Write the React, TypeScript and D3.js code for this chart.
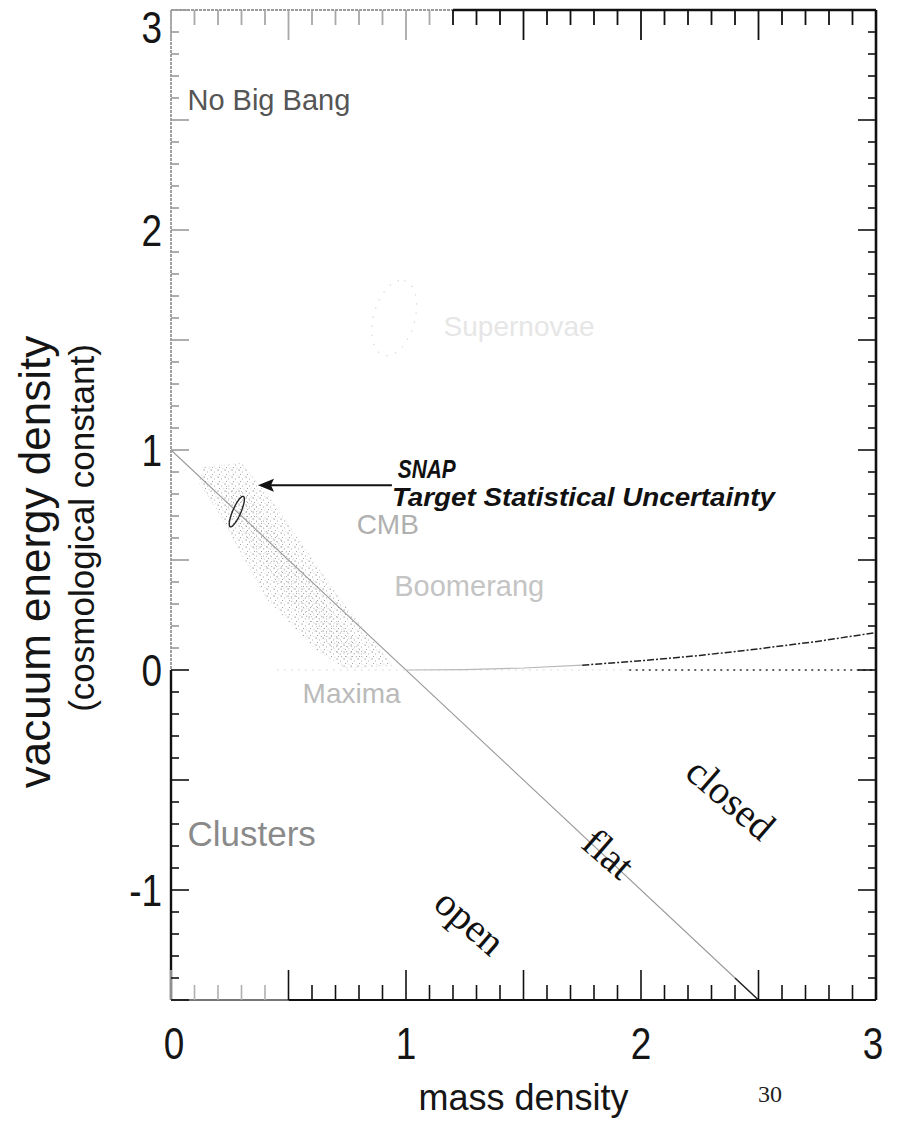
import React from 'react';
import * as d3 from 'd3';

// Plot extent in (mass density, vacuum energy density)
const xDomain: [number, number] = [0, 3];
const yDomain: [number, number] = [-1.5, 3];
const xTickLabels = [0, 1, 2, 3];
const yTickLabels = [-1, 0, 1, 2, 3];

// Flat universe: mass + vacuum = 1
const flatLine: [number, number][] = [[0, 1], [2.5, -1.5]];

// Boundary between eternal expansion and recollapse
const recollapseX = [1.0, 1.25, 1.5, 1.75, 2.0, 2.25, 2.5, 2.75, 3.0];
const recollapseY = [0, 0.002, 0.009, 0.022, 0.042, 0.066, 0.096, 0.13, 0.17];

// CMB (Boomerang / Maxima) allowed band
const cmbBand: [number, number][] = [
  [0.14, 0.92], [0.3, 0.94], [0.42, 0.78], [0.72, 0.32], [0.89, 0.09], [0.94, 0.02],
  [0.74, 0.01], [0.62, 0.09], [0.41, 0.32], [0.19, 0.74], [0.12, 0.85],
];
// Denser core of the CMB band
const cmbCore: [number, number][] = [
  [0.22, 0.84], [0.32, 0.82], [0.62, 0.36], [0.84, 0.06], [0.72, 0.05], [0.5, 0.32], [0.24, 0.72],
];

// SNAP target statistical uncertainty contour: centre and half-axes
const snapEllipse = { cx: 0.28, cy: 0.72, a: [0.028, 0.069], b: [0.016, -0.007] };
// Supernova cosmology contour (faded)
const snEllipse = { cx: 0.95, cy: 1.6, a: [0.043, 0.17], b: [0.085, -0.023] };

// SNAP pointer arrow
const snapArrow: [number, number][] = [[0.94, 0.84], [0.37, 0.84]];

const W = 900;
const H = 1131;

const x = d3.scaleLinear().domain(xDomain).range([171, 876]);
const y = d3.scaleLinear().domain(yDomain).range([1000, 10]);

const sans = "'Liberation Sans', Arial, Helvetica, sans-serif";
const serif = "'Liberation Serif', 'Times New Roman', serif";

function ellipsePath(e: { cx: number; cy: number; a: number[]; b: number[] }) {
  const pts = d3.range(0, 360, 6).map((deg) => {
    const t = (deg * Math.PI) / 180;
    return [
      e.cx + e.a[0] * Math.cos(t) + e.b[0] * Math.sin(t),
      e.cy + e.a[1] * Math.cos(t) + e.b[1] * Math.sin(t),
    ] as [number, number];
  });
  return d3
    .line<[number, number]>()
    .x((d) => x(d[0]))
    .y((d) => y(d[1]))
    .curve(d3.curveLinearClosed)(pts) as string;
}

export default function App() {
  const xt = d3.range(0, 31).map((i) => ({ v: i / 10, major: i % 5 === 0 }));
  const yt = d3.range(-15, 31).map((i) => ({ v: i / 10, major: i % 5 === 0 }));

  const line = d3
    .line<[number, number]>()
    .x((d) => x(d[0]))
    .y((d) => y(d[1]));

  const recollapse: [number, number][] = recollapseX.map((v, i) => [v, recollapseY[i]]);
  const recollapseFaint = recollapse.filter((d) => d[0] <= 1.75);
  const recollapseDark = recollapse.filter((d) => d[0] >= 1.75);

  const [x0, x1] = xDomain;
  const [y0, y1] = yDomain;
  const fadeX = 1.2;

  const arrowTip = snapArrow[1];
  const tipX = x(arrowTip[0]);
  const tipY = y(arrowTip[1]);

  const tickFont = { fontFamily: sans, fontSize: 44, fill: '#151515' };

  return (
    <svg
      width={W}
      height={H}
      viewBox={`0 0 ${W} ${H}`}
      style={{ position: 'absolute', left: 0, top: 0, background: '#fff' }}
    >
      <defs>
        <pattern id="stipple" width="7" height="7" patternUnits="userSpaceOnUse">
          <rect x="0.5" y="0.5" width="1.2" height="1.2" fill="#9a9a9a" />
          <rect x="4" y="2.5" width="1" height="1" fill="#b0b0b0" />
          <rect x="2" y="5" width="1" height="1" fill="#a5a5a5" />
          <rect x="5.5" y="5.8" width="0.8" height="0.8" fill="#c0c0c0" />
        </pattern>
        <pattern id="stippleDense" width="5" height="5" patternUnits="userSpaceOnUse">
          <rect x="1" y="1" width="1.1" height="1.1" fill="#8e8e8e" />
          <rect x="3.4" y="3.2" width="1" height="1" fill="#a2a2a2" />
        </pattern>
      </defs>
      <rect width={W} height={H} fill="#fff" />

      {/* CMB band */}
      <path d={line(cmbBand) + 'Z'} fill="url(#stipple)" stroke="#d0d0d0" strokeWidth={0.8} strokeDasharray="1 4" />
      <path d={line(cmbCore) + 'Z'} fill="url(#stippleDense)" opacity={0.55} />

      {/* faded supernova contour */}
      <path d={ellipsePath(snEllipse)} fill="none" stroke="#d2d2d2" strokeWidth={1.2} strokeDasharray="1.2 8" />

      {/* flat line */}
      <path d={line(flatLine) as string} fill="none" stroke="#9a9a9a" strokeWidth={1.1} />
      <path
        d={line([[2.4, 1 - 2.4], flatLine[1]]) as string}
        fill="none"
        stroke="#222"
        strokeWidth={1.3}
      />

      {/* zero vacuum energy reference */}
      <path d={line([[0.45, 0], [2.0, 0]]) as string} fill="none" stroke="#dcdcdc" strokeWidth={1.2} strokeDasharray="2 5" />
      <path d={line([[1.95, 0], [3.0, 0]]) as string} fill="none" stroke="#333" strokeWidth={1.6} strokeDasharray="2 4.5" />

      {/* recollapse boundary */}
      <path d={line(recollapseFaint) as string} fill="none" stroke="#b8b8b8" strokeWidth={1.2} />
      <path d={line(recollapseDark) as string} fill="none" stroke="#222" strokeWidth={1.5} strokeDasharray="7 2 2 2" />

      {/* SNAP contour */}
      <path d={ellipsePath(snapEllipse)} fill="none" stroke="#222" strokeWidth={1.4} />

      {/* arrow */}
      <line
        x1={x(snapArrow[0][0])}
        y1={y(snapArrow[0][1])}
        x2={tipX + 12}
        y2={tipY}
        stroke="#111"
        strokeWidth={2}
      />
      <path d={`M${tipX},${tipY} L${tipX + 16},${tipY - 6.5} L${tipX + 13},${tipY} L${tipX + 16},${tipY + 6.5} Z`} fill="#111" />

      {/* frame */}
      <line x1={x(x0)} x2={x(fadeX)} y1={y(y1)} y2={y(y1)} stroke="#9c9c9c" strokeWidth={2} strokeDasharray="3 1" />
      <line x1={x(fadeX)} x2={x(x1)} y1={y(y1)} y2={y(y1)} stroke="#111" strokeWidth={2.6} />
      <line x1={x(x0)} x2={x(0.5)} y1={y(y0)} y2={y(y0)} stroke="#777" strokeWidth={2} />
      <line x1={x(0.5)} x2={x(x1)} y1={y(y0)} y2={y(y0)} stroke="#111" strokeWidth={2.2} />
      <line x1={x(x0)} x2={x(x0)} y1={y(y1)} y2={y(0)} stroke="#a0a0a0" strokeWidth={2} strokeDasharray="3 1" />
      <line x1={x(x0)} x2={x(x0)} y1={y(0)} y2={y(y0)} stroke="#111" strokeWidth={2.4} />
      <line x1={x(x1)} x2={x(x1)} y1={y(y1)} y2={y(y0)} stroke="#111" strokeWidth={2.6} />

      {/* x ticks: bottom and top */}
      {xt.map((t) => {
        const len = t.major ? 30 : 15;
        const px = x(t.v);
        const bottomCol = t.v < 0.45 ? '#b0b0b0' : '#111';
        const topCol = t.v < fadeX - 0.05 ? '#a8a8a8' : '#111';
        return (
          <g key={'xt' + t.v}>
            <line x1={px} x2={px} y1={y(y0)} y2={y(y0) - len} stroke={bottomCol} strokeWidth={1.6} />
            <line x1={px} x2={px} y1={y(y1)} y2={y(y1) + len} stroke={topCol} strokeWidth={1.8} />
          </g>
        );
      })}

      {/* y ticks: left and right */}
      {yt.map((t) => {
        const len = t.major ? 18 : 8;
        const py = y(t.v);
        const leftCol = t.v > 0.05 ? '#9a9a9a' : '#111';
        return (
          <g key={'yt' + t.v}>
            <line x1={x(x0)} x2={x(x0) + len} y1={py} y2={py} stroke={leftCol} strokeWidth={1.6} />
            <line x1={x(x1)} x2={x(x1) - len} y1={py} y2={py} stroke="#111" strokeWidth={1.6} />
          </g>
        );
      })}

      {/* tick labels (narrow face) */}
      {xTickLabels.map((v) => (
        <text
          key={'xl' + v}
          transform={`translate(${Math.min(Math.max(x(v), x(x0) + 3), x(x1) - 3)},1059) scale(0.84,1)`}
          textAnchor="middle"
          {...tickFont}
        >
          {v}
        </text>
      ))}
      {yTickLabels.map((v) => (
        <text
          key={'yl' + v}
          transform={`translate(162,${Math.max(y(v), 27) + 16}) scale(0.84,1)`}
          textAnchor="end"
          {...tickFont}
        >
          {v < 0 ? '-' + Math.abs(v) : v}
        </text>
      ))}

      {/* axis titles */}
      <text
        transform={`translate(50,562) rotate(-90)`}
        textAnchor="middle"
        fontFamily={sans}
        fontSize={44}
        fill="#151515"
      >
        vacuum energy density
      </text>
      <text
        transform={`translate(94,528) rotate(-90)`}
        textAnchor="middle"
        fontFamily={sans}
        fontSize={35}
        fill="#151515"
      >
        (cosmological constant)
      </text>
      <text x={x(1.5)} y={1110} textAnchor="middle" fontFamily={sans} fontSize={36} fill="#151515">
        mass density
      </text>
      <text x={770} y={1102} textAnchor="middle" fontFamily={serif} fontSize={24} fill="#222">
        30
      </text>

      {/* region annotations */}
      <text x={x(0.07)} y={y(2.545)} fontFamily={sans} fontSize={29} fill="#555">
        No Big Bang
      </text>
      <text x={x(0.07)} y={y(-0.8)} fontFamily={sans} fontSize={35} fill="#8a8a8a">
        Clusters
      </text>
      <text x={x(1.16)} y={y(1.52)} fontFamily={sans} fontSize={28} fill="#e6e6e6">
        Supernovae
      </text>
      <text x={x(0.79)} y={y(0.618)} fontFamily={sans} fontSize={28} fill="#b0b0b0">
        CMB
      </text>
      <text x={x(0.95)} y={y(0.336)} fontFamily={sans} fontSize={29} fill="#c4c4c4">
        Boomerang
      </text>
      <text x={x(0.56)} y={y(-0.15)} fontFamily={sans} fontSize={28} fill="#bababa">
        Maxima
      </text>

      {/* SNAP annotation */}
      <text
        x={x(0.965)}
        y={y(0.875)}
        fontFamily={sans}
        fontWeight="bold"
        fontStyle="italic"
        fontSize={26}
        fill="#111"
        textLength={58}
        lengthAdjust="spacingAndGlyphs"
      >
        SNAP
      </text>
      <text
        x={x(0.94)}
        y={y(0.745)}
        fontFamily={sans}
        fontWeight="bold"
        fontStyle="italic"
        fontSize={25}
        fill="#111"
        textLength={383}
        lengthAdjust="spacingAndGlyphs"
      >
        Target Statistical Uncertainty
      </text>

      {/* geometry labels */}
      {[
        { t: 'open', p: [1.26, -1.16] },
        { t: 'flat', p: [1.85, -0.85] },
        { t: 'closed', p: [2.37, -0.6] },
      ].map((l) => (
        <text
          key={l.t}
          transform={`translate(${x(l.p[0])},${y(l.p[1])}) rotate(41)`}
          textAnchor="middle"
          dominantBaseline="middle"
          fontFamily={serif}
          fontSize={40}
          fill="#111"
        >
          {l.t}
        </text>
      ))}
    </svg>
  );
}
